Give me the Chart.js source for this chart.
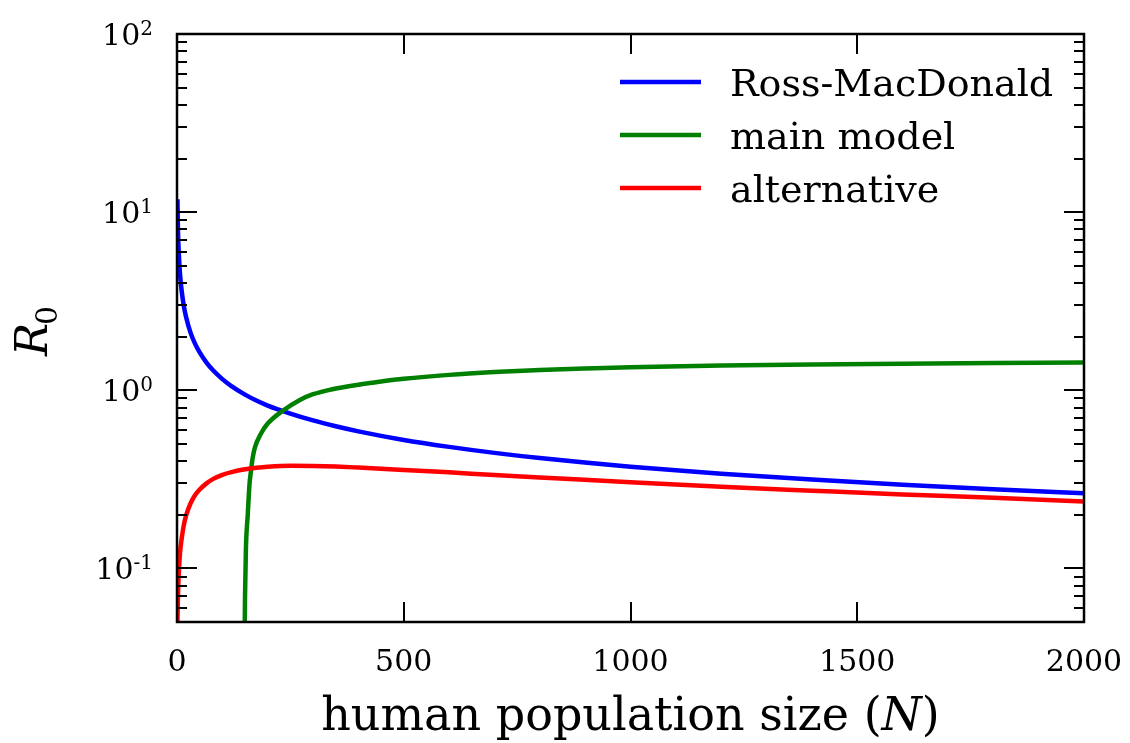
<!DOCTYPE html>
<html>
<head>
<meta charset="utf-8">
<script src="https://cdn.jsdelivr.net/npm/chart.js@4/dist/chart.umd.min.js"></script>
<style>
  html, body { margin: 0; padding: 0; background: #ffffff; }
  #wrap { width: 1130px; height: 743px; }
</style>
</head>
<body>
<div id="wrap"><canvas id="c" width="1130" height="743"></canvas></div>
<script>
// Basic reproduction number R0 against human population size N, three models.
const seriesLabels = ['Ross-MacDonald', 'main model', 'alternative'];
const seriesColors = ['#0000ff', '#008000', '#ff0000'];

const nRoss = [1, 2, 3, 5, 7, 10, 15, 20, 30, 40, 50, 65, 80, 100, 120, 150, 175, 200, 250, 300, 350, 400, 500, 600, 700, 800, 1000, 1200, 1400, 1600, 1800, 2000];
const r0Ross = [11.8, 8.2, 6.7, 5.2, 4.38, 3.66, 2.98, 2.58, 2.1, 1.82, 1.63, 1.43, 1.29, 1.155, 1.055, 0.945, 0.875, 0.82, 0.74, 0.677, 0.628, 0.588, 0.526, 0.481, 0.445, 0.416, 0.372, 0.34, 0.315, 0.295, 0.278, 0.264];

const nMain = [149, 150, 152, 156, 160, 163, 167, 172, 185, 200, 234, 270, 300, 340, 400, 450, 500, 600, 700, 800, 900, 1000, 1200, 1400, 1600, 1800, 2000];
const r0Main = [0.04, 0.07, 0.13, 0.2, 0.30, 0.35, 0.42, 0.48, 0.57, 0.65, 0.77, 0.88, 0.95, 1.01, 1.075, 1.12, 1.16, 1.22, 1.265, 1.30, 1.325, 1.345, 1.375, 1.395, 1.41, 1.422, 1.432];

const nAlt = [0.5, 1, 2, 3, 5, 7, 10, 15, 20, 30, 40, 50, 65, 80, 100, 120, 150, 175, 200, 250, 300, 350, 400, 500, 600, 700, 800, 1000, 1200, 1400, 1600, 1800, 2000];
const r0Alt = [0.034, 0.05, 0.068, 0.083, 0.105, 0.125, 0.145, 0.175, 0.198, 0.232, 0.258, 0.277, 0.30, 0.318, 0.335, 0.347, 0.360, 0.367, 0.372, 0.377, 0.376, 0.373, 0.368, 0.357, 0.346, 0.334, 0.324, 0.304, 0.287, 0.273, 0.260, 0.249, 0.237];

const xTickValues = [0, 500, 1000, 1500, 2000];
const yDecadeExponents = [-1, 0, 1, 2];
const xRange = [0, 2000];
const yRange = [0.05, 100];

const xAxisTitle = ['human population size (', 'N', ')'];
const yAxisTitle = ['R', '0'];

function pts(xs, ys) { return xs.map((x, i) => ({ x: x, y: ys[i] })); }

const SERIF = '"DejaVu Serif", serif';

const framePlugin = {
  id: 'frameAndText',
  afterDraw(chart) {
    const ctx = chart.ctx;
    const a = chart.chartArea;
    const xs = chart.scales.x, ys = chart.scales.y;
    ctx.save();
    ctx.strokeStyle = '#000';
    ctx.fillStyle = '#000';

    // inward tick marks on all four sides
    ctx.lineWidth = 2;
    ctx.lineCap = 'butt';
    const major = 20, minor = 10;
    ctx.beginPath();
    xTickValues.forEach(v => {
      const px = Math.round(xs.getPixelForValue(v));
      ctx.moveTo(px, a.bottom); ctx.lineTo(px, a.bottom - major);
      ctx.moveTo(px, a.top); ctx.lineTo(px, a.top + major);
    });
    for (let d = -2; d <= 2; d++) {
      for (let m = 1; m <= 9; m++) {
        const v = m * Math.pow(10, d);
        if (v < yRange[0] * 0.999 || v > yRange[1] * 1.001) continue;
        const py = Math.round(ys.getPixelForValue(v));
        const len = (m === 1) ? major : minor;
        ctx.moveTo(a.left, py); ctx.lineTo(a.left + len, py);
        ctx.moveTo(a.right, py); ctx.lineTo(a.right - len, py);
      }
    }
    ctx.stroke();

    // frame
    ctx.lineWidth = 2.5;
    ctx.strokeRect(a.left, a.top, a.right - a.left, a.bottom - a.top);

    // x tick labels
    ctx.font = '30px ' + SERIF;
    ctx.textAlign = 'center';
    ctx.textBaseline = 'alphabetic';
    xTickValues.forEach(v => {
      ctx.fillText(String(v), xs.getPixelForValue(v), a.bottom + 49);
    });

    // y tick labels: 10 with superscript exponent
    const labelRight = a.left - 24;
    yDecadeExponents.forEach(e => {
      const py = ys.getPixelForValue(Math.pow(10, e));
      ctx.textAlign = 'left';
      ctx.font = '20px ' + SERIF;
      const expStr = (e < 0 ? '-' : '') + String(Math.abs(e));
      const we = ctx.measureText(expStr).width;
      ctx.font = '30px ' + SERIF;
      const wb = ctx.measureText('10').width;
      const x0 = labelRight - we - wb;
      ctx.fillText('10', x0, py + 11);
      ctx.font = '20px ' + SERIF;
      ctx.fillText(expStr, x0 + wb, py + 1);
    });

    // x axis title with italic N
    const parts = [
      { t: xAxisTitle[0], f: '46px ' + SERIF },
      { t: xAxisTitle[1], f: 'italic 46px ' + SERIF },
      { t: xAxisTitle[2], f: '46px ' + SERIF }
    ];
    let total = 0;
    parts.forEach(p => { ctx.font = p.f; p.w = ctx.measureText(p.t).width; total += p.w; });
    let cx = (a.left + a.right) / 2 - total / 2;
    ctx.textAlign = 'left';
    parts.forEach(p => { ctx.font = p.f; ctx.fillText(p.t, cx, 730); cx += p.w; });

    // y axis title R_0, rotated
    ctx.save();
    ctx.translate(47, (a.top + a.bottom) / 2 + 2);
    ctx.rotate(-Math.PI / 2);
    ctx.font = 'italic 44px ' + SERIF;
    const wR = ctx.measureText(yAxisTitle[0]).width;
    ctx.font = '30px ' + SERIF;
    const w0 = ctx.measureText(yAxisTitle[1]).width;
    const sx = -(wR + w0) / 2;
    ctx.font = 'italic 44px ' + SERIF;
    ctx.fillText(yAxisTitle[0], sx, 0);
    ctx.font = '30px ' + SERIF;
    ctx.fillText(yAxisTitle[1], sx + wR - 2, 10);
    ctx.restore();

    // legend
    const lx0 = 620, lx1 = 701, tx = 730;
    const rows = [82, 135, 188];
    chart.data.datasets.forEach((ds, i) => {
      ctx.strokeStyle = ds.borderColor;
      ctx.lineWidth = 4.5;
      ctx.beginPath();
      ctx.moveTo(lx0, rows[i]); ctx.lineTo(lx1, rows[i]);
      ctx.stroke();
      ctx.fillStyle = '#000';
      ctx.font = '38px ' + SERIF;
      ctx.textAlign = 'left';
      ctx.fillText(ds.label, tx, rows[i] + 14);
    });
    ctx.restore();
  }
};

const datasets = [
  { label: seriesLabels[0], data: pts(nRoss, r0Ross), borderColor: seriesColors[0], order: 2 },
  { label: seriesLabels[1], data: pts(nMain, r0Main), borderColor: seriesColors[1], order: 1 },
  { label: seriesLabels[2], data: pts(nAlt, r0Alt), borderColor: seriesColors[2], order: 0 }
].map(d => Object.assign(d, {
  borderWidth: 4.5, pointRadius: 0, fill: false,
  cubicInterpolationMode: 'monotone',
  borderJoinStyle: 'round', borderCapStyle: 'butt'
}));

new Chart(document.getElementById('c'), {
  type: 'line',
  data: { datasets: datasets },
  options: {
    responsive: false,
    devicePixelRatio: 1,
    animation: false,
    layout: { padding: { top: 34, right: 46, left: 0, bottom: 0 } },
    plugins: { legend: { display: false }, tooltip: { enabled: false } },
    scales: {
      x: {
        type: 'linear', min: xRange[0], max: xRange[1],
        ticks: { display: false, stepSize: 500 },
        grid: { display: false }, border: { display: false },
        afterFit: s => { s.height = 121; }
      },
      y: {
        type: 'logarithmic', min: yRange[0], max: yRange[1],
        ticks: { display: false },
        grid: { display: false }, border: { display: false },
        afterFit: s => { s.width = 177; }
      }
    }
  },
  plugins: [framePlugin]
});
</script>
</body>
</html>
